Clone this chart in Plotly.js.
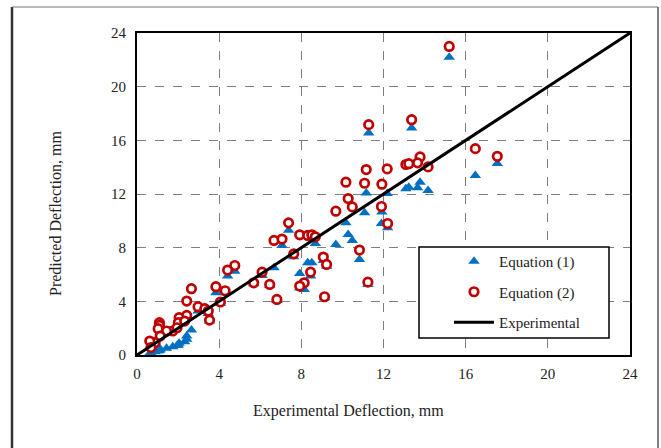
<!DOCTYPE html>
<html>
<head>
<meta charset="utf-8">
<script src="https://cdn.plot.ly/plotly-3.0.1.min.js"></script>
<style>
  html, body { margin: 0; padding: 0; background: #ffffff; }
  #chart { width: 661px; height: 448px; }
</style>
</head>
<body>
<div id="chart"></div>
<script>
// Experimental deflection (mm)
const experimental = [
  15.2, 11.28, 13.37, 16.47, 17.54, 13.78, 14.17, 13.09, 13.23, 13.66,
  11.16, 12.18, 10.17, 11.08, 11.92, 10.28, 10.48, 11.9, 9.68, 12.2,
  7.38, 10.83, 6.67, 7.06, 7.92, 8.31, 8.51, 8.68, 7.63, 9.07,
  9.23, 4.76, 4.41, 6.09, 8.45, 5.68, 6.46, 8.14, 7.92, 11.24,
  9.13, 6.81, 2.65, 3.84, 4.29, 2.42, 4.06, 2.97, 3.3, 3.47,
  3.53, 2.42, 2.05, 2.01, 2.32, 1.74, 1.44, 1.09, 1.09, 1.03,
  1.13, 0.88, 0.62, 0.68, 1.95
];
// Predicted deflection, Equation (1) (mm)
const equation1 = [
  22.2, 16.55, 16.92, 13.37, 14.27, 12.88, 12.26, 12.4, 12.5, 12.46,
  12.08, 12.03, 9.85, 10.6, 10.65, 8.98, 8.54, 9.8, 8.24, 9.48,
  9.3, 7.12, 6.5, 8.16, 6.08, 6.87, 6.87, 8.31, 7.32, 7.05,
  6.62, 6.25, 5.88, 5.93, 5.88, 5.31, 5.19, 4.89, 5.0, 5.26,
  4.27, 4.07, 1.86, 4.64, 4.64, 1.41, 3.85, 3.28, 3.28, 3.1,
  2.53, 1.17, 0.87, 0.75, 0.99, 0.62, 0.5, 0.4, 0.35, 0.3,
  0.45, 0.25, 0.12, 0.15, 0.7
];
// Predicted deflection, Equation (2) (mm)
const equation2 = [
  23.0, 17.17, 17.54, 15.38, 14.81, 14.76, 14.02, 14.2, 14.26, 14.32,
  13.82, 13.87, 12.88, 12.8, 12.73, 11.66, 11.04, 11.07, 10.72, 9.8,
  9.85, 7.82, 8.54, 8.64, 8.96, 8.91, 8.96, 8.81, 7.54, 7.3,
  6.75, 6.67, 6.33, 6.18, 6.18, 5.38, 5.26, 5.38, 5.14, 5.43,
  4.34, 4.14, 4.94, 5.09, 4.79, 4.02, 3.95, 3.6, 3.45, 3.28,
  2.6, 2.95, 2.78, 2.41, 2.53, 1.79, 1.79, 2.41, 2.21, 1.96,
  1.41, 0.92, 1.04, 0.55, 2.03
];
// Experimental (1:1) reference line
const lineX = [0, 24];
const lineY = [0, 24];
const tickVals = [0, 4, 8, 12, 16, 20, 24];

const FONT = "Liberation Serif, Times New Roman, serif";

const traces = [
  {
    x: experimental, y: equation1, type: 'scatter', mode: 'markers',
    name: 'Equation (1)', legendgroup: 'g1',
    marker: { symbol: 'triangle-up', size: 10, color: '#0070C0' }
  },
  {
    x: experimental, y: equation2, type: 'scatter', mode: 'markers',
    name: 'Equation (2)', legendgroup: 'g2',
    marker: { symbol: 'circle', size: 8.5, color: '#ffffff', line: { color: '#C00000', width: 2.7 } }
  },
  {
    x: lineX, y: lineY, type: 'scatter', mode: 'lines',
    name: 'Experimental', legendgroup: 'g3',
    line: { color: '#000000', width: 3 }
  }
];

const axisCommon = {
  range: [0, 24], tickvals: tickVals, ticktext: tickVals.map(String),
  showgrid: true, gridcolor: '#7f7f7f', gridwidth: 1, griddash: 'dash',
  zeroline: false, showline: true, mirror: true, linecolor: '#000000', linewidth: 2,
  ticks: '', tickfont: { family: FONT, size: 15, color: '#222' }
};

// pixel -> paper helpers for layout placement
const px = v => (v - 137) / 493;
const py = v => (355 - v) / 322;

const layout = {
  width: 661, height: 448,
  margin: { l: 137, r: 31, t: 33, b: 93 },
  paper_bgcolor: '#ffffff', plot_bgcolor: '#ffffff',
  font: { family: FONT, color: '#222' },
  xaxis: Object.assign({}, axisCommon, { ticklabelstandoff: 4 }),
  yaxis: Object.assign({}, axisCommon, { ticklabelstandoff: 6 }),
  showlegend: true,
  legend: {
    x: px(449), y: py(245), xanchor: 'left', yanchor: 'top',
    borderwidth: 0, bgcolor: 'rgba(0,0,0,0)',
    font: { family: FONT, size: 15, color: '#222' },
    tracegroupgap: 8, itemwidth: 40
  },
  annotations: [
    { text: 'Experimental Deflection, mm', xref: 'paper', yref: 'paper',
      x: px(348), y: py(411), xanchor: 'center', yanchor: 'middle',
      showarrow: false, font: { family: FONT, size: 16, color: '#222' } },
    { text: 'Predicted Deflection, mm', xref: 'paper', yref: 'paper',
      x: px(55), y: py(214), xanchor: 'center', yanchor: 'middle',
      textangle: -90, showarrow: false, font: { family: FONT, size: 16, color: '#222' } }
  ],
  shapes: [
    // legend frame
    { type: 'rect', xref: 'paper', yref: 'paper', x0: px(419), x1: px(609),
      y0: py(338), y1: py(247), fillcolor: '#ffffff', layer: 'above',
      line: { color: '#000000', width: 1.5 } },
    // outer figure frame
    { type: 'line', xref: 'paper', yref: 'paper', x0: px(12), x1: px(12),
      y0: py(7), y1: py(460), line: { color: '#333', width: 2.5 } },
    { type: 'line', xref: 'paper', yref: 'paper', x0: px(12), x1: px(658),
      y0: py(7), y1: py(7), line: { color: '#777', width: 1.2 } },
    { type: 'line', xref: 'paper', yref: 'paper', x0: px(658), x1: px(658),
      y0: py(7), y1: py(460), line: { color: '#555', width: 1.5 } }
  ]
};

Plotly.newPlot('chart', traces, layout, { displayModeBar: false, staticPlot: true });
</script>
</body>
</html>
